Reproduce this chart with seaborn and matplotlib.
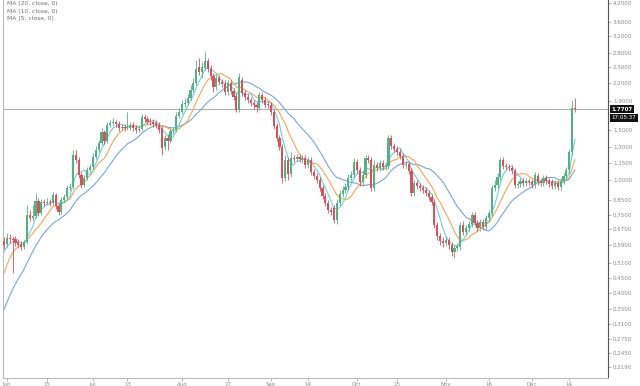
import numpy as np
import pandas as pd
import matplotlib
matplotlib.use("Agg")
import matplotlib.pyplot as plt
import matplotlib.transforms as mtransforms
import seaborn as sns

# ---------------- data ----------------
start_date = "2020-05-31"
end_date = "2020-12-16"

opens = [0.609,0.594,0.624,0.619,0.619,0.604,0.594,0.580,0.604,0.752,
0.734,0.746,0.843,0.765,0.836,0.829,0.836,0.829,0.885,0.809,
0.771,0.850,0.871,0.937,0.945,1.225,1.177,1.041,0.960,1.016,
1.085,1.111,1.206,1.276,1.351,1.477,1.373,1.564,1.590,1.602,
1.577,1.526,1.539,1.526,1.526,1.564,1.526,1.502,1.514,1.669,
1.642,1.616,1.602,1.590,1.564,1.526,1.308,1.407,1.373,1.489,
1.502,1.683,1.738,1.855,1.870,1.948,2.079,2.200,2.506,2.406,
2.486,2.631,2.466,2.329,2.130,2.292,2.218,2.183,2.045,2.200,
2.062,1.980,1.767,2.255,2.029,1.964,1.916,1.870,1.840,1.796,
1.996,1.916,1.855,1.840,1.738,1.551,1.407,1.308,1.016,1.177,
1.050,1.196,1.186,1.206,1.177,1.196,1.130,1.177,1.067,1.033,
1.000,0.937,0.878,0.829,0.783,0.796,0.722,0.829,0.892,0.922,
0.945,1.016,1.041,1.158,1.085,0.984,1.041,1.196,1.177,0.937,
1.130,1.103,1.148,1.111,1.121,1.407,1.318,1.287,1.256,1.215,
1.130,1.139,1.076,0.900,0.976,0.952,0.937,0.922,0.900,0.871,
0.836,0.694,0.634,0.609,0.599,0.614,0.589,0.557,0.575,0.580,
0.694,0.655,0.677,0.699,0.752,0.705,0.677,0.711,0.682,0.734,
0.765,0.937,0.960,1.025,1.177,1.121,1.111,1.103,1.076,0.960,
0.968,0.992,0.976,0.992,0.984,0.960,1.033,0.984,0.976,1.016,
0.992,0.984,0.952,0.976,0.945,0.992,1.033,1.085,1.256,1.790]

closes = [0.589,0.624,0.619,0.614,0.599,0.589,0.580,0.604,0.752,0.734,
0.746,0.843,0.765,0.836,0.829,0.836,0.829,0.885,0.809,0.771,
0.850,0.871,0.937,0.945,1.225,1.177,1.041,0.960,1.016,1.085,
1.111,1.206,1.276,1.351,1.477,1.373,1.564,1.590,1.602,1.577,
1.526,1.539,1.526,1.539,1.564,1.526,1.502,1.514,1.669,1.642,
1.602,1.602,1.577,1.564,1.502,1.297,1.407,1.373,1.489,1.502,
1.683,1.738,1.855,1.870,1.948,2.079,2.200,2.466,2.406,2.506,
2.631,2.466,2.329,2.130,2.292,2.218,2.183,2.045,2.200,2.062,
1.964,1.767,2.310,2.029,1.964,1.916,1.870,1.840,1.810,1.996,
1.916,1.840,1.840,1.738,1.551,1.407,1.308,1.016,1.177,1.050,
1.196,1.186,1.206,1.186,1.196,1.130,1.177,1.067,1.033,1.000,
0.937,0.878,0.829,0.783,0.771,0.722,0.829,0.892,0.922,0.945,
1.016,1.041,1.158,1.085,0.984,1.041,1.196,1.177,0.937,1.130,
1.103,1.148,1.111,1.121,1.407,1.318,1.287,1.256,1.215,1.130,
1.139,1.076,0.900,0.976,0.952,0.937,0.922,0.900,0.871,0.836,
0.694,0.634,0.609,0.599,0.614,0.589,0.557,0.575,0.585,0.694,
0.655,0.677,0.699,0.752,0.705,0.677,0.711,0.682,0.734,0.765,
0.937,0.960,1.025,1.177,1.121,1.111,1.103,1.076,0.960,0.968,
0.992,0.976,0.992,0.984,0.960,1.041,0.984,0.976,1.016,0.992,
0.968,0.952,0.976,0.945,0.992,1.033,1.085,1.256,1.796,1.7707]

highs = [0.629,0.650,0.645,0.634,0.634,0.619,0.609,0.614,0.816,0.783,
0.816,0.900,0.864,0.857,0.857,0.864,0.857,0.907,0.900,0.829,
0.871,0.892,0.960,0.976,1.276,1.276,1.206,1.067,1.041,1.111,
1.139,1.245,1.318,1.384,1.526,1.502,1.602,1.629,1.656,1.629,
1.616,1.577,1.577,1.738,1.602,1.602,1.564,1.551,1.710,1.710,
1.683,1.656,1.642,1.629,1.602,1.551,1.442,1.453,1.526,1.539,
1.738,1.796,1.916,1.948,2.012,2.165,2.292,2.653,2.697,2.610,
2.831,2.697,2.547,2.386,2.348,2.348,2.273,2.255,2.255,2.255,
2.113,2.029,2.386,2.310,2.079,2.012,1.964,1.916,1.885,2.045,
2.045,1.964,1.900,1.885,1.781,1.590,1.442,1.340,1.225,1.206,
1.256,1.225,1.235,1.235,1.225,1.225,1.206,1.206,1.094,1.059,
1.025,0.960,0.900,0.850,0.803,0.816,0.857,0.922,0.952,0.976,
1.050,1.076,1.196,1.186,1.111,1.076,1.225,1.225,1.206,1.177,
1.158,1.177,1.177,1.148,1.442,1.442,1.351,1.318,1.287,1.245,
1.167,1.167,1.103,1.000,1.000,0.976,0.960,0.945,0.922,0.892,
0.857,0.711,0.650,0.629,0.634,0.629,0.604,0.589,0.599,0.711,
0.717,0.694,0.717,0.771,0.771,0.722,0.728,0.728,0.752,0.783,
0.960,1.000,1.059,1.206,1.206,1.148,1.139,1.130,1.103,0.992,
1.016,1.016,1.016,1.016,1.008,1.067,1.059,1.008,1.041,1.041,
1.016,1.008,1.000,1.000,1.016,1.059,1.111,1.287,1.916,1.948]

lows = [0.571,0.580,0.599,0.469,0.585,0.575,0.566,0.571,0.594,0.717,
0.722,0.734,0.746,0.752,0.809,0.816,0.809,0.816,0.790,0.752,
0.758,0.836,0.857,0.914,0.930,1.148,1.016,0.937,0.945,1.000,
1.067,1.094,1.186,1.256,1.329,1.340,1.351,1.539,1.564,1.539,
1.489,1.502,1.489,1.502,1.502,1.489,1.465,1.477,1.489,1.602,
1.577,1.564,1.539,1.526,1.465,1.225,1.276,1.276,1.351,1.453,
1.477,1.656,1.710,1.810,1.840,1.916,2.045,2.165,2.348,2.292,
2.446,2.406,2.255,2.045,2.079,2.165,2.130,1.996,1.996,2.012,
1.916,1.738,1.738,1.980,1.916,1.870,1.825,1.781,1.738,1.767,
1.870,1.796,1.796,1.697,1.514,1.373,1.276,0.976,0.992,1.000,
1.025,1.158,1.167,1.158,1.148,1.103,1.103,1.041,1.008,0.976,
0.914,0.857,0.809,0.765,0.752,0.705,0.699,0.809,0.871,0.900,
0.922,0.992,1.016,1.059,0.952,0.952,1.016,1.148,0.914,0.914,
1.076,1.076,1.085,1.085,1.094,1.287,1.256,1.225,1.186,1.103,
1.103,1.050,0.878,0.878,0.930,0.914,0.900,0.878,0.850,0.816,
0.677,0.614,0.589,0.580,0.585,0.571,0.539,0.530,0.561,0.566,
0.639,0.639,0.660,0.682,0.688,0.660,0.660,0.666,0.666,0.717,
0.746,0.914,0.937,1.000,1.094,1.085,1.076,1.050,0.937,0.937,
0.945,0.952,0.952,0.960,0.937,0.937,0.960,0.952,0.952,0.968,
0.945,0.930,0.930,0.922,0.922,0.968,1.008,1.059,1.225,1.738]

# closes of the 19 sessions before the window (seed the moving averages)
prior_closes = [0.20,0.21,0.20,0.22,0.23,0.22,0.24,0.25,0.26,0.27,
                0.30,0.33,0.38,0.42,0.47,0.50,0.55,0.56,0.58]

ma_windows = [20, 10, 5]
ma_labels = ["MA (20, close, 0)", "MA (10, close, 0)", "MA (5, close, 0)"]

tick_dates = ["2020-06-01","2020-06-15","2020-07-01","2020-07-13","2020-08-01",
              "2020-08-17","2020-09-01","2020-09-14","2020-10-01","2020-10-15",
              "2020-11-01","2020-11-16","2020-12-01","2020-12-14"]
tick_labels = ["Jun","15","Jul","13","Aug","17","Sep","14","Oct","15","Nov","16","Dec","14"]

y_ticks = [4.2, 3.6, 3.2, 2.8, 2.5, 2.2, 1.9, 1.5, 1.3, 1.15, 1.0, 0.85, 0.75,
           0.67, 0.59, 0.51, 0.45, 0.40, 0.35, 0.31, 0.275, 0.245, 0.219]
last_price = 1.7707
countdown = "17:05:37"

# ---------------- styling ----------------
up_color = "#4fb384"
down_color = "#dc4f5c"
ma_colors = ["#7aa6d6", "#f2a65a", "#6fd0d8"]
text_color = "#8a8a8a"

sns.set_style("white")
plt.rcParams["font.family"] = ["DejaVu Sans"]

dates = pd.date_range(start_date, end_date, freq="D")
n = len(dates)
x = np.arange(n)
O = np.array(opens); C = np.array(closes); H = np.array(highs); L = np.array(lows)

full = pd.Series(prior_closes + closes)
ma_df = pd.DataFrame({"idx": np.tile(x, len(ma_windows)),
                      "value": np.concatenate([full.rolling(w).mean().to_numpy()[-n:] for w in ma_windows]),
                      "ma": np.repeat(ma_labels, n)})

fig = plt.figure(figsize=(6.4, 3.86), dpi=100)
ax = fig.add_axes([3/640, 8/386, 605/640, 378/386])
ax.set_yscale("log")

# moving averages
sns.lineplot(data=ma_df, x="idx", y="value", hue="ma", palette=dict(zip(ma_labels, ma_colors)),
             linewidth=0.8, ax=ax, legend=False)

# candles
up = C >= O
wick_colors = np.where(up, up_color, down_color)
ax.vlines(x, L, H, colors=wick_colors, linewidth=0.6, zorder=3)
ax.bar(x[up], (C - O)[up], bottom=O[up], width=0.75, color=up_color, linewidth=0, zorder=4)
ax.bar(x[~up], (O - C)[~up], bottom=C[~up], width=0.75, color=down_color, linewidth=0, zorder=4)

# last price line
ax.axhline(last_price, color="#b0b0b0", linewidth=0.8, zorder=1)

ax.set_xlim(-0.35, 210.5)
ax.set_ylim(0.2003, 4.30)

# axes
ax.yaxis.tick_right()
ax.set_yticks(y_ticks)
ax.set_yticklabels([f"{v:.4f}" for v in y_ticks])
ax.yaxis.set_minor_locator(matplotlib.ticker.NullLocator())
ax.tick_params(axis="y", which="major", length=2, width=0.5, color="#999999",
               labelsize=4, labelcolor=text_color, pad=1.5, right=True, left=False)
tick_pos = [(pd.Timestamp(d) - dates[0]).days for d in tick_dates]
ax.set_xticks(tick_pos)
ax.set_xticklabels(tick_labels)
ax.tick_params(axis="x", length=2, width=0.5, color="#999999", labelsize=4,
               labelcolor=text_color, pad=1, bottom=True)
ax.set_xlabel(""); ax.set_ylabel("")
ax.spines["top"].set_visible(False)
ax.spines["left"].set_color("#bbbbbb"); ax.spines["left"].set_linewidth(0.8)
ax.spines["bottom"].set_color("#bbbbbb"); ax.spines["bottom"].set_linewidth(0.8)
ax.spines["right"].set_color("#555555"); ax.spines["right"].set_linewidth(0.8)

# price tags on the right axis
trans = mtransforms.blended_transform_factory(ax.transAxes, ax.transData)
ax.text(1.006, last_price, f"{last_price:.4f}", transform=trans, fontsize=4, color="white",
        fontweight="bold", va="center", ha="left", clip_on=False,
        bbox=dict(boxstyle="square,pad=0.25", fc="#111111", ec="none"))
ax.text(1.006, last_price * 0.935, countdown, transform=trans, fontsize=4, color="white",
        va="center", ha="left", clip_on=False,
        bbox=dict(boxstyle="square,pad=0.25", fc="#111111", ec="none"))

# indicator titles (top-left)
for k, lab in enumerate(ma_labels):
    fig.text(7/640, 1 - (3.5 + 7.5 * k) / 386, lab, fontsize=4.3, color="#707070",
             ha="left", va="center")

fig.savefig("out.png", dpi=100)
